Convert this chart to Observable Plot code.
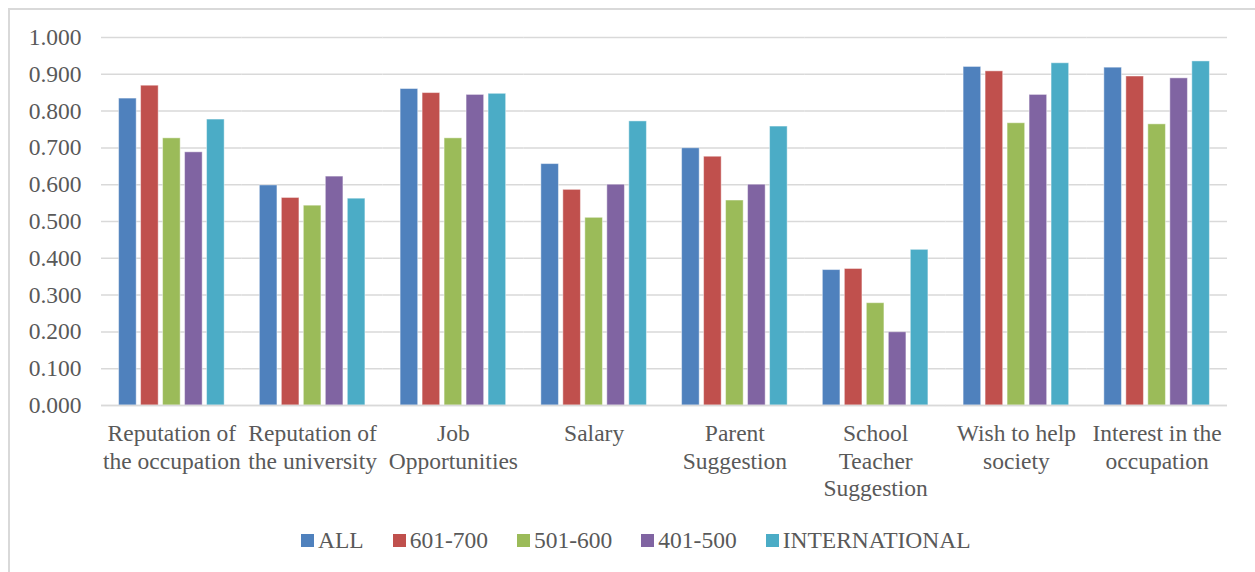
<!DOCTYPE html>
<html>
<head>
<meta charset="utf-8">
<script src="https://cdn.jsdelivr.net/npm/d3@7"></script>
<script src="https://cdn.jsdelivr.net/npm/@observablehq/plot@0.6"></script>
<style>
  body { margin: 0; background: #fff; }
  #wrap { position: relative; width: 1255px; height: 572px; overflow: hidden; }
  #frame { position: absolute; left: 8px; top: 8px; width: 1400px; height: 700px;
           border-left: 2px solid #d9d9d9; border-top: 2px solid #d9d9d9; box-sizing: border-box; }
  #chart { position: absolute; left: 0; top: 0; }
  #legend { position: absolute; left: 301px; top: 527px; height: 26px; display: flex; align-items: center;
            font-family: 'Liberation Serif', 'Times New Roman', serif; font-size: 23.5px; color: #595959; white-space: nowrap; }
  .item { display: flex; align-items: center; margin-right: 29px; }
  .sw { width: 13px; height: 13px; margin-right: 4px; }
</style>
</head>
<body>
<div id="wrap">
  <div id="frame"></div>
  <div id="chart"></div>
  <div id="legend"></div>
</div>
<script>
const categories = [
  "Reputation of the occupation",
  "Reputation of the university",
  "Job Opportunities",
  "Salary",
  "Parent Suggestion",
  "School Teacher Suggestion",
  "Wish to help society",
  "Interest in the occupation"
];
const categoryLabels = [
  "Reputation of\nthe occupation",
  "Reputation of\nthe university",
  "Job\nOpportunities",
  "Salary",
  "Parent\nSuggestion",
  "School\nTeacher\nSuggestion",
  "Wish to help\nsociety",
  "Interest in the\noccupation"
];
const series = ["ALL", "601-700", "501-600", "401-500", "INTERNATIONAL"];
const colors = ["#4F81BD", "#C0504D", "#9BBB59", "#8064A2", "#4BACC6"];

const valuesALL   = [0.834, 0.598, 0.860, 0.656, 0.699, 0.368, 0.920, 0.918];
const values601   = [0.869, 0.564, 0.849, 0.586, 0.676, 0.371, 0.908, 0.894];
const values501   = [0.726, 0.543, 0.726, 0.510, 0.557, 0.278, 0.767, 0.764];
const values401   = [0.688, 0.622, 0.844, 0.600, 0.600, 0.199, 0.844, 0.889];
const valuesINTL  = [0.777, 0.562, 0.847, 0.772, 0.758, 0.423, 0.930, 0.935];
const yTicks = [0, 0.1, 0.2, 0.3, 0.4, 0.5, 0.6, 0.7, 0.8, 0.9, 1.0];

const seriesValues = [valuesALL, values601, values501, values401, valuesINTL];
const data = [];
categories.forEach((c, i) => {
  series.forEach((s, j) => data.push({category: c, series: s, value: seriesValues[j][i]}));
});
const labelOf = new Map(categories.map((c, i) => [c, categoryLabels[i]]));

const chart = Plot.plot({
  width: 1255,
  height: 510,
  marginLeft: 101,
  marginRight: 28,
  marginTop: 37,
  marginBottom: 105,
  style: {fontFamily: "'Liberation Serif', 'Times New Roman', serif", fontSize: "23.5px", color: "#595959", background: "transparent"},
  fx: {domain: categories, paddingInner: 0, paddingOuter: 0, round: false, label: null},
  x: {domain: series, paddingInner: 0.2, paddingOuter: 0.8, round: false, axis: null},
  y: {domain: [0, 1], label: null},
  color: {domain: series, range: colors},
  marks: [
    Plot.gridY(yTicks, {stroke: "#d9d9d9", strokeOpacity: 1, strokeWidth: 1.5}),
    Plot.barY(data, {fx: "category", x: "series", y: "value", fill: "series", stroke: "#ffffff", strokeOpacity: 0.45, strokeWidth: 1}),
    Plot.ruleY([0], {stroke: "#d9d9d9", strokeWidth: 1.5}),
    Plot.axisY(yTicks, {tickFormat: d3.format(".3f"), tickSize: 0, tickPadding: 20, fontSize: 23.5, label: null}),
    Plot.axisFx({anchor: "bottom", tickSize: 0, tickPadding: 16, lineHeight: 1.17, fontSize: 23.5, label: null, tickFormat: d => labelOf.get(d)})
  ]
});
document.getElementById("chart").appendChild(chart);

const legend = document.getElementById("legend");
series.forEach((s, i) => {
  const item = document.createElement("div");
  item.className = "item";
  const sw = document.createElement("span");
  sw.className = "sw";
  sw.style.background = colors[i];
  const t = document.createElement("span");
  t.textContent = s;
  item.appendChild(sw);
  item.appendChild(t);
  legend.appendChild(item);
});
</script>
</body>
</html>
